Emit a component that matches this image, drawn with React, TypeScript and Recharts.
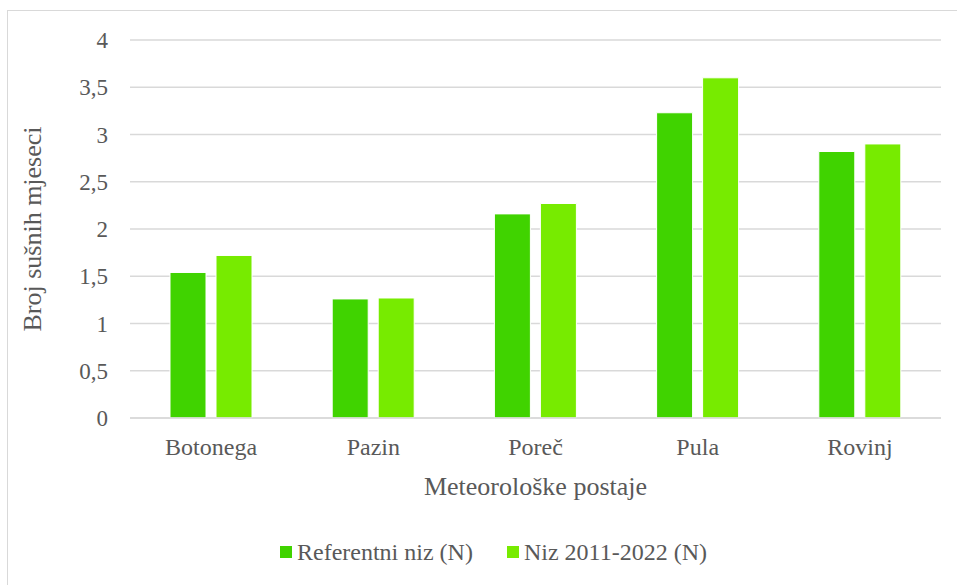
import { Bar, BarChart, CartesianGrid, Label, Legend, XAxis, YAxis } from 'recharts';

const stations = ['Botonega', 'Pazin', 'Poreč', 'Pula', 'Rovinj'];
const referentni = [1.54, 1.26, 2.16, 3.23, 2.82];
const niz20112022 = [1.72, 1.27, 2.27, 3.6, 2.9];
const yTicks = [0, 0.5, 1, 1.5, 2, 2.5, 3, 3.5, 4];

const FONT = 'Liberation Serif, Tinos, Times New Roman, DejaVu Serif, serif';
const TEXT = '#595959';
const GRID = '#d9d9d9';
const COLORS = { referentni: '#40d300', niz: '#77eb00' };
const NAMES = { referentni: 'Referentni niz (N)', niz: 'Niz 2011-2022 (N)' };

// note: don't name a key "ref", Bar spreads the row into element props
const data = stations.map((s, i) => ({ name: s, referentni: referentni[i], niz: niz20112022[i] }));

function YTitle(props: any) {
  const vb = props.viewBox || { y: 40, height: 378 };
  const x = 41;
  const y = vb.y + vb.height / 2;
  return (
    <text x={x} y={y} transform={`rotate(-90 ${x} ${y})`} textAnchor="middle" fill={TEXT} fontSize={26} fontFamily={FONT}>
      Broj sušnih mjeseci
    </text>
  );
}

function LegendBox() {
  const item = (key: 'referentni' | 'niz') => (
    <span key={key} style={{ display: 'inline-flex', alignItems: 'center', marginRight: 34 }}>
      <i style={{ display: 'inline-block', width: 12, height: 12, background: COLORS[key], marginRight: 5 }} />
      <span>{NAMES[key]}</span>
    </span>
  );
  return (
    <div style={{ display: 'flex', fontFamily: FONT, fontSize: 24, color: TEXT, lineHeight: '30px', whiteSpace: 'nowrap' }}>
      {item('referentni')}
      {item('niz')}
    </div>
  );
}

export default function App() {
  return (
    <div style={{ position: 'absolute', left: 0, top: 0, width: 957, height: 585, overflow: 'hidden', background: '#fff' }}>
      <div style={{ position: 'absolute', left: 7, top: 10, width: 1000, height: 1000, border: `1px solid ${GRID}` }} />
      <div style={{ position: 'absolute', left: 0, top: 0 }}>
        <BarChart width={957} height={585} data={data} margin={{ top: 40, right: 16, bottom: 87, left: 0 }} barGap={10} barCategoryGap={40}>
          <CartesianGrid stroke={GRID} strokeWidth={1.5} vertical={false} />
          <XAxis
            dataKey="name"
            height={80}
            tickSize={0}
            tickMargin={20}
            axisLine={{ stroke: GRID, strokeWidth: 1.5 }}
            tick={{ fill: TEXT, fontSize: 24, fontFamily: FONT }}
          >
            <Label value="Meteorološke postaje" position="insideBottom" offset={3} fill={TEXT} fontSize={26} fontFamily={FONT} />
          </XAxis>
          <YAxis
            width={130}
            domain={[0, 4]}
            ticks={yTicks}
            tickSize={0}
            tickMargin={22}
            axisLine={false}
            tickFormatter={(v) => String(v).replace('.', ',')}
            tick={{ fill: TEXT, fontSize: 23, fontFamily: FONT }}
          >
            <Label content={<YTitle />} />
          </YAxis>
          <Legend
            layout="horizontal"
            verticalAlign="middle"
            align="center"
            wrapperStyle={{ top: 537, left: 280, width: 'auto' }}
            content={<LegendBox />}
          />
          <Bar dataKey="referentni" fill={COLORS.referentni} stroke="#ffffff" strokeWidth={1} isAnimationActive={false} />
          <Bar dataKey="niz" fill={COLORS.niz} stroke="#ffffff" strokeWidth={1} isAnimationActive={false} />
        </BarChart>
      </div>
    </div>
  );
}
